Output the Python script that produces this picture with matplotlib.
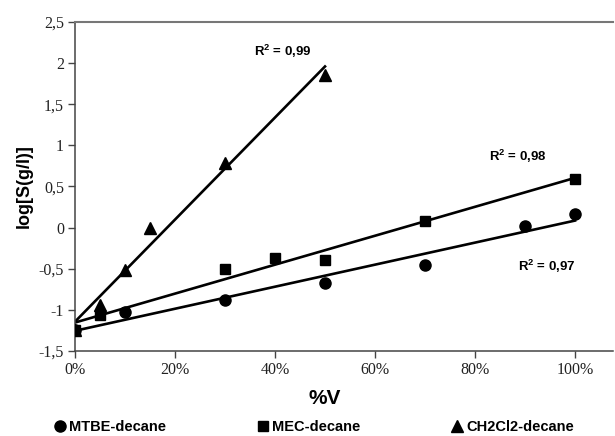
import numpy as np
import matplotlib
matplotlib.use("Agg")
import matplotlib.pyplot as plt

# data (x in % volume, y = log S)
x_mtbe = [0, 10, 30, 50, 70, 90, 100]
y_mtbe = [-1.24, -1.03, -0.88, -0.67, -0.45, 0.02, 0.16]

x_mec = [0, 5, 30, 40, 50, 70, 100]
y_mec = [-1.24, -1.06, -0.50, -0.37, -0.39, 0.08, 0.59]

x_ch2 = [0, 5, 10, 15, 30, 50]
y_ch2 = [-1.24, -0.935, -0.51, 0.0, 0.79, 1.86]

series_names = ["MTBE-decane", "MEC-decane", "CH2Cl2-decane"]
series_markers = ["o", "s", "^"]
r2_labels = ["0,97", "0,98", "0,99"]
r2_pos = [(94.4, -0.47), (88.6, 0.87), (41.6, 2.14)]

y_ticks = [-1.5, -1, -0.5, 0, 0.5, 1, 1.5, 2, 2.5]
y_ticklabels = ["-1,5", "-1", "-0,5", "0", "0,5", "1", "1,5", "2", "2,5"]
x_ticks = [0, 20, 40, 60, 80, 100]

sans = "Liberation Sans"
serif = "Liberation Serif"
plt.rcParams["mathtext.fontset"] = "custom"
plt.rcParams["mathtext.bf"] = "Liberation Sans:bold"
plt.rcParams["mathtext.rm"] = "Liberation Sans"

fig = plt.figure(figsize=(6.15, 4.36), dpi=100)
ax = fig.add_axes([75 / 615, 1 - 351 / 436, 538 / 615, 329 / 436])

handles = []
data = [(x_mtbe, y_mtbe), (x_mec, y_mec), (x_ch2, y_ch2)]
for (xs, ys), name, mk in zip(data, series_names, series_markers):
    xs = np.array(xs, dtype=float)
    ys = np.array(ys, dtype=float)
    # linear trend line over the data range
    k, b = np.polyfit(xs, ys, 1)
    xl = np.array([xs.min(), xs.max()])
    ax.plot(xl, k * xl + b, color="black", lw=1.9, zorder=2)
    h, = ax.plot(xs, ys, linestyle="none", marker=mk, color="black",
                 markersize=8 if mk != "s" else 7, zorder=3, label=name)
    handles.append(h)

for lab, (tx, ty) in zip(r2_labels, r2_pos):
    ax.text(tx, ty, r"R$^{\mathbf{2}}$ = " + lab, fontfamily=sans,
            fontweight="bold", fontsize=9.5, ha="center", va="center")

ax.set_xlim(0, 107.6)
ax.set_ylim(-1.5, 2.5)
ax.set_yticks(y_ticks)
ax.set_yticklabels(y_ticklabels)
ax.set_xticks(x_ticks)
ax.set_xticklabels([f"{t}%" for t in x_ticks])
for lbl in ax.get_xticklabels() + ax.get_yticklabels():
    lbl.set_fontfamily(serif)
    lbl.set_fontsize(11.5)
    lbl.set_color("#222222")
ax.tick_params(direction="out", length=5, width=1, color="#444444", pad=3)

ax.spines["right"].set_visible(False)
ax.spines["top"].set_color("#777777")
ax.spines["top"].set_linewidth(1.5)
for s in ["left", "bottom"]:
    ax.spines[s].set_color("#444444")
    ax.spines[s].set_linewidth(1.1)

ax.set_ylabel("log[S(g/l)]", fontfamily=sans, fontweight="bold", fontsize=13)
ax.yaxis.set_label_coords(-0.078, 0.5)
ax.set_xlabel("%V", fontfamily=sans, fontweight="bold", fontsize=15, va="center")
ax.xaxis.set_label_coords(50 / 107.6, (351 - 398) / 329)

# one legend entry per column, placed where the reference has them
leg_x = [54, 257, 451]
for h, lx in zip(handles, leg_x):
    leg = fig.legend(handles=[h], loc="center left",
                     bbox_to_anchor=(lx / 615, 1 - 427 / 436),
                     frameon=False, handlelength=0.8, handletextpad=0.25,
                     borderaxespad=0, borderpad=0,
                     prop={"family": sans, "weight": "bold", "size": 10.5})
    for lh in leg.legend_handles:
        lh.set_markersize(8 if lh.get_marker() != "s" else 7)

fig.savefig("out.png", dpi=100)
